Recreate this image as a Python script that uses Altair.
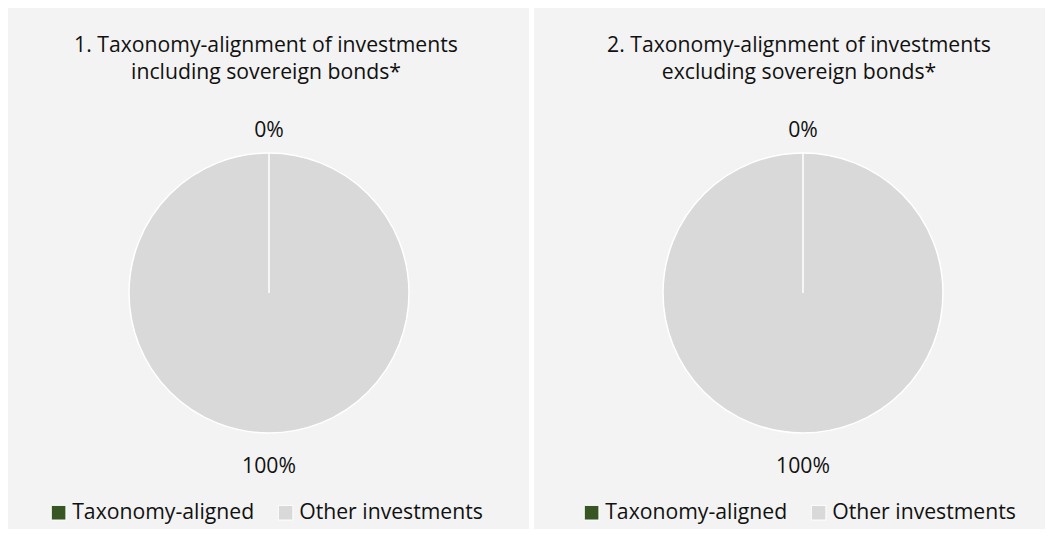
import altair as alt
import pandas as pd

# ---- data ----
categories = ["Other investments", "Taxonomy-aligned"]
incl_values = [100, 0]   # chart 1: including sovereign bonds
excl_values = [100, 0]   # chart 2: excluding sovereign bonds
title_1 = "1. Taxonomy-alignment of investments\nincluding sovereign bonds*"
title_2 = "2. Taxonomy-alignment of investments\nexcluding sovereign bonds*"
legend_order = ["Taxonomy-aligned", "Other investments"]
colors = ["#375623", "#d9d9d9"]

FONT = "Open Sans"
FS = 21.2
TXT = "#111111"
CY = 285
R = 140


def panel(values, title, cx, tx, lx, w, h):
    df = pd.DataFrame({"cat": categories, "pct": values})
    theta = alt.Theta("pct:Q", stack=True)

    bg = alt.Chart(pd.DataFrame({"b": [0]})).mark_rect(
        color="#f3f3f3"
    ).encode(
        x=alt.value(0), x2=alt.value(w), y=alt.value(0), y2=alt.value(h)
    )

    pie = alt.Chart(df).mark_arc(
        x=cx, y=CY, outerRadius=R, stroke="white", strokeWidth=1.5
    ).encode(
        theta=theta,
        color=alt.Color(
            "cat:N",
            scale=alt.Scale(domain=legend_order, range=colors),
            legend=alt.Legend(
                orient="none", legendX=lx, legendY=494, direction="horizontal",
                columns=2, title=None, symbolType="square", symbolSize=215,
                symbolStrokeColor="white", symbolStrokeWidth=1,
                labelFont=FONT, labelFontSize=FS, labelColor=TXT,
                labelOffset=3, columnPadding=20, padding=0, labelLimit=400,
            ),
        ),
    )

    lab_top = alt.Chart(df).transform_calculate(
        lab="datum.cat == 'Taxonomy-aligned' ? format(datum.pct, 'd') + '%' : ''"
    ).mark_text(
        x=cx, y=CY, radius=162, font=FONT, fontSize=FS, color=TXT, baseline="middle"
    ).encode(theta=theta, detail="cat:N", text="lab:N")

    lab_bot = alt.Chart(df).transform_calculate(
        lab="datum.cat == 'Other investments' ? format(datum.pct, 'd') + '%' : ''"
    ).mark_text(
        x=cx, y=CY, radius=174, font=FONT, fontSize=FS, color=TXT, baseline="middle"
    ).encode(theta=theta, detail="cat:N", text="lab:N")

    ttl = alt.Chart(pd.DataFrame({"t": [title]})).mark_text(
        x=tx, y=44, font=FONT, fontSize=FS, color=TXT, align="center",
        baseline="alphabetic", lineBreak="\n", lineHeight=27,
    ).encode(text="t:N")

    return alt.layer(bg, pie, lab_top, lab_bot, ttl).properties(width=w, height=h)


left = panel(incl_values, title_1, 261, 258, 40, 521, 521)
right = panel(excl_values, title_2, 269, 265, 47, 511, 521)

chart = alt.hconcat(left, right, spacing=5).resolve_scale(
    theta="independent", color="independent"
).properties(
    padding=0, background="white"
).configure_view(
    strokeWidth=0
)

chart.save("out.html", embed_options={"renderer": "svg", "actions": False})
